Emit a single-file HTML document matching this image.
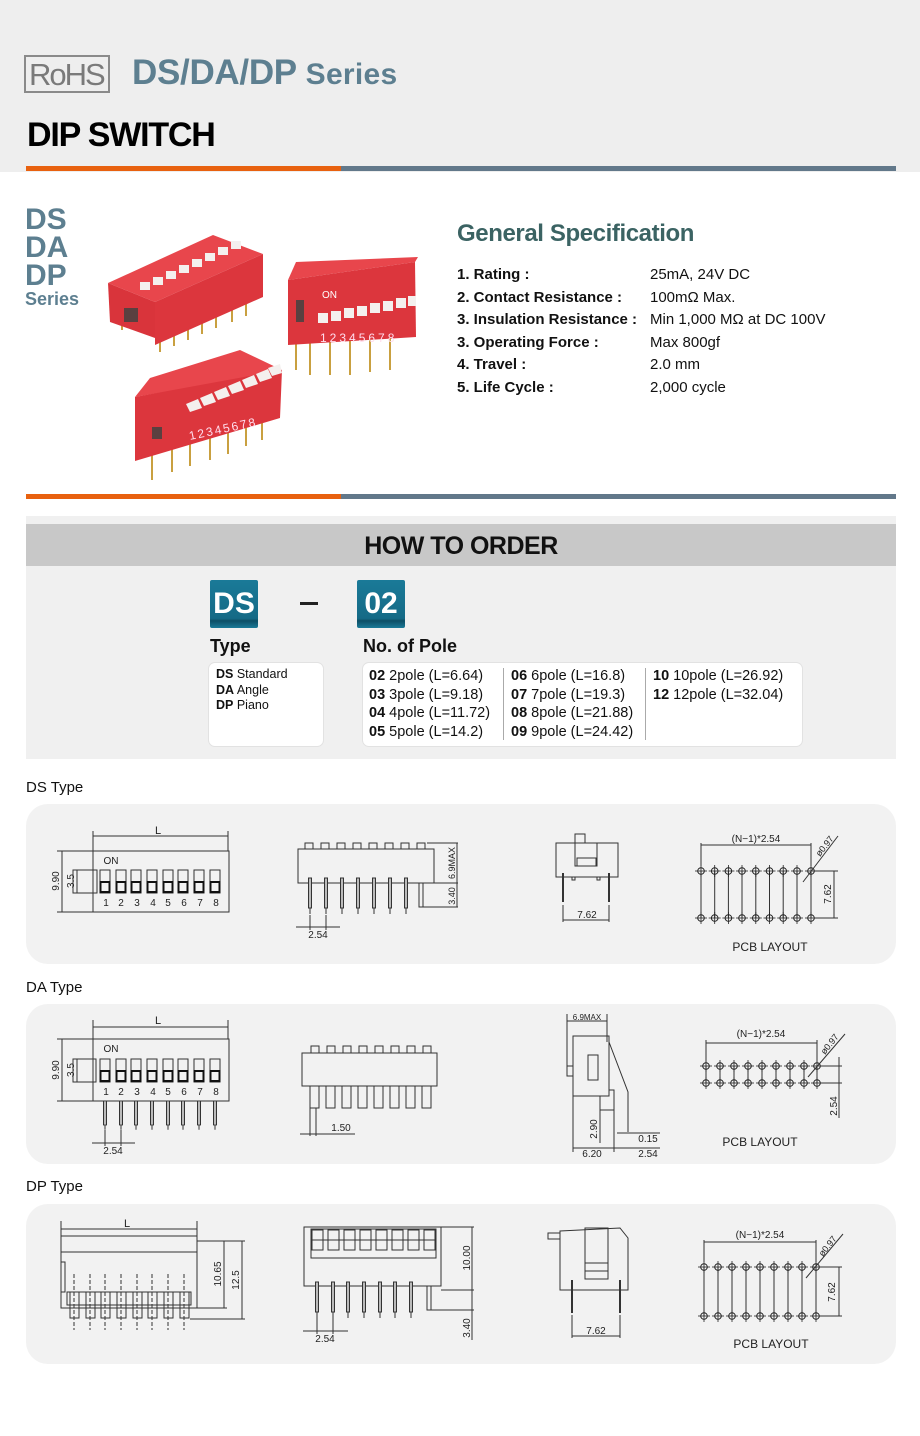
<!DOCTYPE html>
<html><head><meta charset="utf-8"><style>
*{margin:0;padding:0;box-sizing:border-box}
body{width:920px;height:1436px;position:relative;background:#fff;font-family:"Liberation Sans",sans-serif;overflow:hidden}
.a{position:absolute;white-space:nowrap}
.b{font-weight:bold}
</style></head><body>
<div class="a" style="left:0;top:0;width:920px;height:172px;background:#eeeeee"></div>
<div class="a" style="left:24px;top:55px;width:86px;height:38px;border:2px solid #8a8a8a;"></div>
<div class="a" style="left:29px;top:57px;font-size:31px;color:#7a7a7a;letter-spacing:-2px;">RoHS</div>
<div class="a b" style="left:132px;top:53px;font-size:35px;color:#5d7f90;letter-spacing:-0.3px">DS/DA/DP <span style="font-size:30px;letter-spacing:0.3px">Series</span></div>
<div class="a b" style="left:27px;top:116px;font-size:34px;color:#000;letter-spacing:-1.2px">DIP SWITCH</div>
<div class="a" style="left:26px;top:166px;width:315px;height:5px;background:#e8610f"></div>
<div class="a" style="left:341px;top:166px;width:555px;height:5px;background:#62788a"></div>

<div class="a b" style="left:25px;top:206px;font-size:30px;line-height:28px;color:#5d7f90">DS<br>DA<br>DP</div>
<div class="a b" style="left:25px;top:289px;font-size:18px;color:#5d7f90">Series</div>

<div class="a b" style="left:457px;top:220px;font-size:24px;color:#3b6363;letter-spacing:-0.4px">General Specification</div>
<div class="a" style="left:457px;top:264px;font-size:15px;line-height:22.5px;color:#111">
<div class="b">1. Rating :</div><div class="b">2. Contact Resistance :</div><div class="b">3. Insulation Resistance :</div><div class="b">3. Operating Force :</div><div class="b">4. Travel :</div><div class="b">5. Life Cycle :</div></div>
<div class="a" style="left:650px;top:264px;font-size:15px;line-height:22.5px;color:#111">
<div>25mA, 24V DC</div><div>100mΩ Max.</div><div>Min 1,000 MΩ at DC 100V</div><div>Max 800gf</div><div>2.0 mm</div><div>2,000 cycle</div></div>

<div class="a" style="left:26px;top:494px;width:315px;height:5px;background:#e8610f"></div>
<div class="a" style="left:341px;top:494px;width:555px;height:5px;background:#62788a"></div>

<div class="a" style="left:26px;top:516px;width:870px;height:243px;background:#f0f0f0"></div>
<div class="a" style="left:26px;top:524px;width:870px;height:42px;background:#c8c8c8"></div>
<div class="a b" style="left:26px;top:532px;width:870px;text-align:center;font-size:25px;color:#111;letter-spacing:-0.5px">HOW TO ORDER</div>
<div class="a b" style="left:210px;top:580px;width:48px;height:48px;background:linear-gradient(#1a7a98,#156a86 80%,#0d4f66 85%,#1a7a98);color:#fff;font-size:30px;text-align:center;line-height:48px;border-radius:2px">DS</div>
<div class="a" style="left:300px;top:602px;width:18px;height:3px;background:#222"></div>
<div class="a b" style="left:357px;top:580px;width:48px;height:48px;background:linear-gradient(#1a7a98,#156a86 80%,#0d4f66 85%,#1a7a98);color:#fff;font-size:30px;text-align:center;line-height:48px;border-radius:2px">02</div>
<div class="a b" style="left:210px;top:636px;font-size:18px;color:#111">Type</div>
<div class="a b" style="left:363px;top:636px;font-size:18px;color:#111">No. of Pole</div>
<div class="a" style="left:208px;top:662px;width:116px;height:85px;background:#fff;border-radius:7px;border:1px solid #e2e2e2"></div>
<div class="a" style="left:216px;top:667px;font-size:12.5px;line-height:15.5px;color:#111"><b>DS</b> Standard<br><b>DA</b> Angle<br><b>DP</b> Piano</div>
<div class="a" style="left:362px;top:662px;width:441px;height:85px;background:#fff;border-radius:7px;border:1px solid #e2e2e2"></div>
<div class="a" style="left:503px;top:668px;width:1px;height:72px;background:#aaa"></div>
<div class="a" style="left:645px;top:668px;width:1px;height:72px;background:#aaa"></div>
<div class="a" style="left:369px;top:667px;font-size:14.5px;line-height:18.5px;color:#111"><b>02</b> 2pole (L=6.64)<br><b>03</b> 3pole (L=9.18)<br><b>04</b> 4pole (L=11.72)<br><b>05</b> 5pole (L=14.2)</div>
<div class="a" style="left:511px;top:667px;font-size:14.5px;line-height:18.5px;color:#111"><b>06</b> 6pole (L=16.8)<br><b>07</b> 7pole (L=19.3)<br><b>08</b> 8pole (L=21.88)<br><b>09</b> 9pole (L=24.42)</div>
<div class="a" style="left:653px;top:667px;font-size:14.5px;line-height:18.5px;color:#111"><b>10</b> 10pole (L=26.92)<br><b>12</b> 12pole (L=32.04)</div>

<div class="a" style="left:26px;top:779px;font-size:15px;color:#111">DS Type</div>
<div class="a" style="left:26px;top:804px;width:870px;height:160px;background:#f2f2f2;border-radius:22px"></div>
<div class="a" style="left:26px;top:979px;font-size:15px;color:#111">DA Type</div>
<div class="a" style="left:26px;top:1004px;width:870px;height:160px;background:#f2f2f2;border-radius:22px"></div>
<div class="a" style="left:26px;top:1178px;font-size:15px;color:#111">DP Type</div>
<div class="a" style="left:26px;top:1204px;width:870px;height:160px;background:#f2f2f2;border-radius:22px"></div>

<svg class="a" style="left:0;top:0" width="920" height="1436" viewBox="0 0 920 1436" font-family="Liberation Sans, sans-serif">
<defs>
<g id="sw"><rect x="0" y="0" width="10" height="23" fill="none" stroke="#333" stroke-width="1"/><rect x="0.5" y="12" width="9" height="10" fill="none" stroke="#111" stroke-width="2"/></g>
<g id="pin"><rect x="-1.5" y="0" width="3" height="30" fill="#bbb" stroke="#333" stroke-width="1"/><line x1="0" y1="30" x2="0" y2="36" stroke="#333"/></g>
<g id="hole"><circle r="3.3" fill="none" stroke="#222" stroke-width="1"/><line x1="-6" y1="0" x2="6" y2="0" stroke="#222" stroke-width="0.8"/><line x1="0" y1="-6" x2="0" y2="6" stroke="#222" stroke-width="0.8"/></g>
<g id="gp"><line x1="0" y1="0" x2="0" y2="40" stroke="#c9a040" stroke-width="2"/></g>
</defs>

<!-- photos -->
<g>
<use href="#gp" x="122" y="290"/><use href="#gp" x="160" y="312"/><use href="#gp" x="174" y="306"/><use href="#gp" x="188" y="300"/><use href="#gp" x="202" y="294"/><use href="#gp" x="216" y="288"/><use href="#gp" x="232" y="282"/><use href="#gp" x="246" y="276"/>
<polygon points="108,283 213,235 263,254 155,302" fill="#e8464c"/>
<polygon points="108,283 155,302 155,338 110,322" fill="#d9343b"/>
<polygon points="155,302 263,254 263,297 155,345" fill="#dc363d"/>
<rect x="124" y="308" width="14" height="14" fill="#5a4040"/>
<g fill="#f4f0ee"><rect x="140" y="282" width="10" height="8"/><rect x="153" y="277" width="10" height="8"/><rect x="166" y="271" width="10" height="8"/><rect x="179" y="265" width="10" height="8"/><rect x="192" y="259" width="10" height="8"/><rect x="205" y="253" width="10" height="8"/><rect x="218" y="247" width="10" height="8"/><rect x="231" y="241" width="10" height="8"/></g>

<use href="#gp" x="296" y="330"/><use href="#gp" x="310" y="335"/><use href="#gp" x="330" y="335"/><use href="#gp" x="350" y="335"/><use href="#gp" x="370" y="332"/><use href="#gp" x="390" y="330"/>
<polygon points="288,280 296,262 418,257 415,262" fill="#e8464c"/>
<polygon points="288,280 415,262 416,337 288,345" fill="#dc363d"/>
<rect x="296" y="300" width="8" height="22" fill="#5a4040"/>
<g fill="#f4f0ee"><rect x="318" y="313" width="10" height="10"/><rect x="331" y="311" width="10" height="10"/><rect x="344" y="308" width="10" height="10"/><rect x="357" y="306" width="10" height="10"/><rect x="370" y="303" width="10" height="10"/><rect x="383" y="301" width="10" height="10"/><rect x="396" y="298" width="10" height="10"/><rect x="408" y="296" width="8" height="10"/></g>
<text x="322" y="298" font-size="10" fill="#fff">ON</text>
<text x="320" y="342" font-size="12" fill="#fde" letter-spacing="3">12345678</text>

<use href="#gp" x="152" y="440"/><use href="#gp" x="172" y="432"/><use href="#gp" x="190" y="426"/><use href="#gp" x="210" y="420"/><use href="#gp" x="228" y="414"/><use href="#gp" x="246" y="406"/><use href="#gp" x="262" y="400"/>
<polygon points="135,397 150,378 240,350 282,370 282,372" fill="#e8464c"/>
<polygon points="135,397 282,370 280,418 135,461" fill="#dc363d"/>
<rect x="152" y="427" width="10" height="12" fill="#5a4040"/>
<g fill="#f4f0ee"><polygon points="186,404 198,399 202,408 190,412"/><polygon points="200,398 212,393 216,402 204,406"/><polygon points="214,392 226,387 230,396 218,400"/><polygon points="228,386 240,381 244,390 232,394"/><polygon points="242,380 254,375 258,384 246,388"/><polygon points="256,374 268,369 272,378 260,382"/><polygon points="268,368 280,364 282,373 272,376"/></g>
<text x="190" y="440" font-size="12" fill="#fde" transform="rotate(-12 190 440)" letter-spacing="2">12345678</text>
</g>

<g stroke="#333" stroke-width="1" fill="none" font-size="10" text-anchor="middle">
<!-- DS 1 -->
<rect x="93" y="851" width="136" height="61"/>
<line x1="93" y1="831" x2="93" y2="851"/><line x1="228" y1="831" x2="228" y2="851"/><line x1="93" y1="836" x2="228" y2="836"/>
<line x1="57" y1="851" x2="93" y2="851"/><line x1="57" y1="912" x2="93" y2="912"/><line x1="62" y1="851" x2="62" y2="912"/>
<rect x="73" y="870" width="20" height="23"/><line x1="77" y1="870" x2="77" y2="893"/>
<rect x="93" y="870" width="4" height="23"/>
<use href="#sw" x="100" y="870"/><use href="#sw" x="116" y="870"/><use href="#sw" x="131" y="870"/><use href="#sw" x="147" y="870"/><use href="#sw" x="163" y="870"/><use href="#sw" x="178" y="870"/><use href="#sw" x="194" y="870"/><use href="#sw" x="210" y="870"/>
<!-- DS 2 -->
<rect x="298" y="849" width="136" height="34"/>
<g><rect x="305" y="843" width="8" height="6"/><rect x="321" y="843" width="8" height="6"/><rect x="337" y="843" width="8" height="6"/><rect x="353" y="843" width="8" height="6"/><rect x="369" y="843" width="8" height="6"/><rect x="385" y="843" width="8" height="6"/><rect x="401" y="843" width="8" height="6"/><rect x="417" y="843" width="8" height="6"/></g>
<use href="#pin" x="310" y="878"/><use href="#pin" x="326" y="878"/><use href="#pin" x="342" y="878"/><use href="#pin" x="358" y="878"/><use href="#pin" x="374" y="878"/><use href="#pin" x="390" y="878"/><use href="#pin" x="406" y="878"/>
<rect x="419" y="883" width="4" height="24"/>
<line x1="427" y1="843" x2="458" y2="843"/><line x1="434" y1="883" x2="458" y2="883"/><line x1="423" y1="907" x2="458" y2="907"/><line x1="457" y1="843" x2="457" y2="907"/>
<line x1="296" y1="927" x2="340" y2="927"/><line x1="310" y1="915" x2="310" y2="930"/><line x1="326" y1="915" x2="326" y2="930"/>
<!-- DS 3 -->
<rect x="556" y="843" width="62" height="34"/><rect x="575" y="834" width="10" height="9"/><rect x="575" y="843" width="22" height="23"/><rect x="577" y="858" width="19" height="8"/>
<line x1="563" y1="873" x2="563" y2="902" stroke-width="2"/><line x1="609" y1="873" x2="609" y2="902" stroke-width="2"/>
<rect x="572" y="877" width="3" height="3"/><rect x="597" y="877" width="3" height="3"/>
<line x1="563" y1="905" x2="563" y2="922"/><line x1="609" y1="905" x2="609" y2="922"/><line x1="563" y1="920" x2="609" y2="920"/>
<!-- DS 4 -->
<g stroke-width="1"><line x1="701" y1="871" x2="701" y2="918"/><line x1="714.7" y1="871" x2="714.7" y2="918"/><line x1="728.4" y1="871" x2="728.4" y2="918"/><line x1="742" y1="871" x2="742" y2="918"/><line x1="755.8" y1="871" x2="755.8" y2="918"/><line x1="769.5" y1="871" x2="769.5" y2="918"/><line x1="783.2" y1="871" x2="783.2" y2="918"/><line x1="797" y1="871" x2="797" y2="918"/><line x1="811" y1="871" x2="811" y2="918"/></g>
<use href="#hole" x="701" y="871"/><use href="#hole" x="714.7" y="871"/><use href="#hole" x="728.4" y="871"/><use href="#hole" x="742" y="871"/><use href="#hole" x="755.8" y="871"/><use href="#hole" x="769.5" y="871"/><use href="#hole" x="783.2" y="871"/><use href="#hole" x="797" y="871"/><use href="#hole" x="811" y="871"/>
<use href="#hole" x="701" y="918"/><use href="#hole" x="714.7" y="918"/><use href="#hole" x="728.4" y="918"/><use href="#hole" x="742" y="918"/><use href="#hole" x="755.8" y="918"/><use href="#hole" x="769.5" y="918"/><use href="#hole" x="783.2" y="918"/><use href="#hole" x="797" y="918"/><use href="#hole" x="811" y="918"/>
<line x1="701" y1="845" x2="811" y2="845"/><line x1="701" y1="843" x2="701" y2="866"/><line x1="811" y1="843" x2="811" y2="866"/>
<line x1="815" y1="871" x2="838" y2="871"/><line x1="815" y1="918" x2="838" y2="918"/><line x1="834" y1="871" x2="834" y2="918"/>
<line x1="803" y1="882" x2="838" y2="836"/>

<!-- DA 1 -->
<rect x="93" y="1039" width="136" height="62"/>
<line x1="93" y1="1020" x2="93" y2="1039"/><line x1="228" y1="1020" x2="228" y2="1039"/><line x1="93" y1="1027" x2="228" y2="1027"/>
<line x1="57" y1="1039" x2="93" y2="1039"/><line x1="57" y1="1101" x2="93" y2="1101"/><line x1="62" y1="1039" x2="62" y2="1101"/>
<rect x="73" y="1059" width="20" height="23"/><line x1="77" y1="1059" x2="77" y2="1082"/><rect x="93" y="1059" width="3" height="23"/>
<use href="#sw" x="100" y="1059"/><use href="#sw" x="116" y="1059"/><use href="#sw" x="131" y="1059"/><use href="#sw" x="147" y="1059"/><use href="#sw" x="163" y="1059"/><use href="#sw" x="178" y="1059"/><use href="#sw" x="194" y="1059"/><use href="#sw" x="210" y="1059"/>
<g transform="translate(0,1101) scale(1,0.8)"><use href="#pin" x="105" y="0"/><use href="#pin" x="121" y="0"/><use href="#pin" x="136" y="0"/><use href="#pin" x="152" y="0"/><use href="#pin" x="168" y="0"/><use href="#pin" x="183" y="0"/><use href="#pin" x="199" y="0"/><use href="#pin" x="215" y="0"/></g>
<line x1="92" y1="1143" x2="135" y2="1143"/><line x1="105" y1="1130" x2="105" y2="1146"/><line x1="121" y1="1130" x2="121" y2="1146"/>
<!-- DA 2 -->
<rect x="302" y="1053" width="135" height="33"/>
<g><rect x="311" y="1046" width="8" height="7"/><rect x="327" y="1046" width="8" height="7"/><rect x="343" y="1046" width="8" height="7"/><rect x="359" y="1046" width="8" height="7"/><rect x="375" y="1046" width="8" height="7"/><rect x="391" y="1046" width="8" height="7"/><rect x="407" y="1046" width="8" height="7"/><rect x="423" y="1046" width="8" height="7"/></g>
<g><rect x="310" y="1086" width="9" height="22"/><rect x="326" y="1086" width="9" height="22"/><rect x="342" y="1086" width="9" height="22"/><rect x="358" y="1086" width="9" height="22"/><rect x="374" y="1086" width="9" height="22"/><rect x="390" y="1086" width="9" height="22"/><rect x="406" y="1086" width="9" height="22"/><rect x="422" y="1086" width="9" height="22"/></g>
<line x1="300" y1="1134" x2="355" y2="1134"/><line x1="310" y1="1108" x2="310" y2="1136"/><line x1="316" y1="1108" x2="316" y2="1136"/>
<!-- DA 3 -->
<rect x="573" y="1036" width="36" height="60"/><rect x="567" y="1066" width="6" height="10"/><rect x="588" y="1055" width="10" height="25"/>
<polyline points="609,1042 628,1092 628,1132"/><polyline points="609,1090 614,1090 614,1113"/><polyline points="600,1096 600,1110 614,1110"/>
<line x1="567" y1="1021" x2="607" y2="1021"/><line x1="567" y1="1014" x2="567" y2="1066"/><line x1="607" y1="1014" x2="607" y2="1042"/>
<line x1="573" y1="1096" x2="573" y2="1152"/><line x1="614" y1="1113" x2="614" y2="1152"/><line x1="573" y1="1148" x2="614" y2="1148"/><line x1="608" y1="1148" x2="660" y2="1148"/>
<line x1="617" y1="1133" x2="660" y2="1133"/><line x1="600" y1="1110" x2="600" y2="1143"/>
<!-- DA 4 -->
<g><line x1="706" y1="1066" x2="706" y2="1083"/><line x1="720" y1="1066" x2="720" y2="1083"/><line x1="734" y1="1066" x2="734" y2="1083"/><line x1="748" y1="1066" x2="748" y2="1083"/><line x1="762" y1="1066" x2="762" y2="1083"/><line x1="776" y1="1066" x2="776" y2="1083"/><line x1="790" y1="1066" x2="790" y2="1083"/><line x1="804" y1="1066" x2="804" y2="1083"/><line x1="817" y1="1066" x2="817" y2="1083"/></g>
<use href="#hole" x="706" y="1066"/><use href="#hole" x="720" y="1066"/><use href="#hole" x="734" y="1066"/><use href="#hole" x="748" y="1066"/><use href="#hole" x="762" y="1066"/><use href="#hole" x="776" y="1066"/><use href="#hole" x="790" y="1066"/><use href="#hole" x="804" y="1066"/><use href="#hole" x="817" y="1066"/>
<use href="#hole" x="706" y="1083"/><use href="#hole" x="720" y="1083"/><use href="#hole" x="734" y="1083"/><use href="#hole" x="748" y="1083"/><use href="#hole" x="762" y="1083"/><use href="#hole" x="776" y="1083"/><use href="#hole" x="790" y="1083"/><use href="#hole" x="804" y="1083"/><use href="#hole" x="817" y="1083"/>
<line x1="706" y1="1043" x2="817" y2="1043"/><line x1="706" y1="1040" x2="706" y2="1062"/><line x1="817" y1="1040" x2="817" y2="1062"/>
<line x1="821" y1="1066" x2="842" y2="1066"/><line x1="821" y1="1083" x2="842" y2="1083"/><line x1="839" y1="1057" x2="839" y2="1118"/>
<line x1="808" y1="1077" x2="845" y2="1034"/>

<!-- DP 1 -->
<rect x="61" y="1236" width="136" height="72"/><line x1="61" y1="1252" x2="197" y2="1252"/>
<line x1="61" y1="1221" x2="61" y2="1236"/><line x1="197" y1="1221" x2="197" y2="1236"/><line x1="61" y1="1229" x2="197" y2="1229"/>
<rect x="61" y="1262" width="4" height="30"/>
<rect x="67" y="1292" width="124" height="13"/>
<g><rect x="70" y="1292" width="9" height="26"/><rect x="86" y="1292" width="9" height="26"/><rect x="101" y="1292" width="9" height="26"/><rect x="117" y="1292" width="9" height="26"/><rect x="133" y="1292" width="9" height="26"/><rect x="148" y="1292" width="9" height="26"/><rect x="164" y="1292" width="9" height="26"/><rect x="180" y="1292" width="9" height="26"/></g>
<g stroke-dasharray="4,2"><line x1="74" y1="1274" x2="74" y2="1330"/><line x1="90" y1="1274" x2="90" y2="1330"/><line x1="105" y1="1274" x2="105" y2="1330"/><line x1="121" y1="1274" x2="121" y2="1330"/><line x1="137" y1="1274" x2="137" y2="1330"/><line x1="152" y1="1274" x2="152" y2="1330"/><line x1="168" y1="1274" x2="168" y2="1330"/><line x1="184" y1="1274" x2="184" y2="1330"/></g>
<line x1="197" y1="1241" x2="245" y2="1241"/><line x1="197" y1="1308" x2="227" y2="1308"/><line x1="190" y1="1319" x2="245" y2="1319"/>
<line x1="224" y1="1241" x2="224" y2="1308"/><line x1="242" y1="1241" x2="242" y2="1319"/>
<!-- DP 2 -->
<rect x="304" y="1227" width="137" height="59"/><rect x="311" y="1229" width="125" height="29"/>
<g><rect x="312" y="1230" width="11" height="20"/><rect x="328" y="1230" width="11" height="20"/><rect x="344" y="1230" width="11" height="20"/><rect x="360" y="1230" width="11" height="20"/><rect x="376" y="1230" width="11" height="20"/><rect x="392" y="1230" width="11" height="20"/><rect x="408" y="1230" width="11" height="20"/><rect x="424" y="1230" width="11" height="20"/></g>
<line x1="311" y1="1240" x2="436" y2="1240"/>
<use href="#pin" x="317" y="1282"/><use href="#pin" x="333" y="1282"/><use href="#pin" x="348" y="1282"/><use href="#pin" x="364" y="1282"/><use href="#pin" x="380" y="1282"/><use href="#pin" x="395" y="1282"/><use href="#pin" x="411" y="1282"/>
<rect x="427" y="1286" width="4" height="24"/>
<line x1="441" y1="1227" x2="474" y2="1227"/><line x1="441" y1="1290" x2="474" y2="1290"/><line x1="431" y1="1310" x2="474" y2="1310"/><line x1="472" y1="1227" x2="472" y2="1340"/>
<line x1="303" y1="1331" x2="348" y2="1331"/><line x1="317" y1="1318" x2="317" y2="1334"/><line x1="333" y1="1318" x2="333" y2="1334"/>
<!-- DP 3 -->
<polygon points="560,1231 620,1228 628,1238 628,1290 560,1290"/><rect x="548" y="1233" width="12" height="6"/>
<rect x="585" y="1228" width="23" height="51"/><rect x="585" y="1263" width="23" height="8"/>
<line x1="572" y1="1280" x2="572" y2="1313" stroke-width="2"/><line x1="620" y1="1280" x2="620" y2="1313" stroke-width="2"/>
<line x1="572" y1="1315" x2="572" y2="1338"/><line x1="620" y1="1315" x2="620" y2="1338"/><line x1="572" y1="1336" x2="620" y2="1336"/>
<!-- DP 4 -->
<g><line x1="704" y1="1267" x2="704" y2="1316"/><line x1="718" y1="1267" x2="718" y2="1316"/><line x1="732" y1="1267" x2="732" y2="1316"/><line x1="746" y1="1267" x2="746" y2="1316"/><line x1="760" y1="1267" x2="760" y2="1316"/><line x1="774" y1="1267" x2="774" y2="1316"/><line x1="788" y1="1267" x2="788" y2="1316"/><line x1="802" y1="1267" x2="802" y2="1316"/><line x1="816" y1="1267" x2="816" y2="1316"/></g>
<use href="#hole" x="704" y="1267"/><use href="#hole" x="718" y="1267"/><use href="#hole" x="732" y="1267"/><use href="#hole" x="746" y="1267"/><use href="#hole" x="760" y="1267"/><use href="#hole" x="774" y="1267"/><use href="#hole" x="788" y="1267"/><use href="#hole" x="802" y="1267"/><use href="#hole" x="816" y="1267"/>
<use href="#hole" x="704" y="1316"/><use href="#hole" x="718" y="1316"/><use href="#hole" x="732" y="1316"/><use href="#hole" x="746" y="1316"/><use href="#hole" x="760" y="1316"/><use href="#hole" x="774" y="1316"/><use href="#hole" x="788" y="1316"/><use href="#hole" x="802" y="1316"/><use href="#hole" x="816" y="1316"/>
<line x1="704" y1="1242" x2="816" y2="1242"/><line x1="704" y1="1240" x2="704" y2="1262"/><line x1="816" y1="1240" x2="816" y2="1262"/>
<line x1="820" y1="1267" x2="842" y2="1267"/><line x1="820" y1="1316" x2="842" y2="1316"/><line x1="839" y1="1267" x2="839" y2="1316"/>
<line x1="806" y1="1278" x2="843" y2="1234"/>
</g>

<g font-size="10" fill="#222" text-anchor="middle">
<text x="158" y="834" font-size="11">L</text><text x="111" y="864" font-size="10">ON</text>
<text x="106" y="906">1</text><text x="121" y="906">2</text><text x="137" y="906">3</text><text x="153" y="906">4</text><text x="168" y="906">5</text><text x="184" y="906">6</text><text x="200" y="906">7</text><text x="216" y="906">8</text>
<text transform="translate(59,881) rotate(-90)">9.90</text><text transform="translate(74,881) rotate(-90)">3.5</text>
<text transform="translate(455,863) rotate(-90)" font-size="9">6.9MAX</text><text transform="translate(455,896) rotate(-90)" font-size="9">3.40</text>
<text x="318" y="938">2.54</text><text x="587" y="918">7.62</text>
<text x="756" y="842">(N−1)*2.54</text><text transform="translate(831,894) rotate(-90)">7.62</text><text transform="translate(827,848) rotate(-52)" font-size="9">ø0.97</text>
<text x="770" y="951" font-size="12">PCB LAYOUT</text>

<text x="158" y="1024" font-size="11">L</text><text x="111" y="1052">ON</text>
<text x="106" y="1095">1</text><text x="121" y="1095">2</text><text x="137" y="1095">3</text><text x="153" y="1095">4</text><text x="168" y="1095">5</text><text x="184" y="1095">6</text><text x="200" y="1095">7</text><text x="216" y="1095">8</text>
<text transform="translate(59,1070) rotate(-90)">9.90</text><text transform="translate(74,1070) rotate(-90)">3.5</text>
<text x="113" y="1154">2.54</text><text x="341" y="1131">1.50</text>
<text x="587" y="1020" font-size="8">6.9MAX</text><text transform="translate(597,1129) rotate(-90)">2.90</text>
<text x="648" y="1142">0.15</text><text x="592" y="1157">6.20</text><text x="648" y="1157">2.54</text>
<text x="761" y="1037">(N−1)*2.54</text><text transform="translate(837,1106) rotate(-90)">2.54</text><text transform="translate(832,1046) rotate(-52)" font-size="9">ø0.97</text>
<text x="760" y="1146" font-size="12">PCB LAYOUT</text>

<text x="127" y="1227" font-size="11">L</text>
<text transform="translate(221,1274) rotate(-90)">10.65</text><text transform="translate(239,1280) rotate(-90)">12.5</text>
<text transform="translate(470,1258) rotate(-90)">10.00</text><text transform="translate(470,1328) rotate(-90)">3.40</text>
<text x="325" y="1342">2.54</text><text x="596" y="1334">7.62</text>
<text x="760" y="1238">(N−1)*2.54</text><text transform="translate(835,1292) rotate(-90)">7.62</text><text transform="translate(830,1248) rotate(-52)" font-size="9">ø0.97</text>
<text x="771" y="1348" font-size="12">PCB LAYOUT</text>
</g>
</svg>
</body></html>
